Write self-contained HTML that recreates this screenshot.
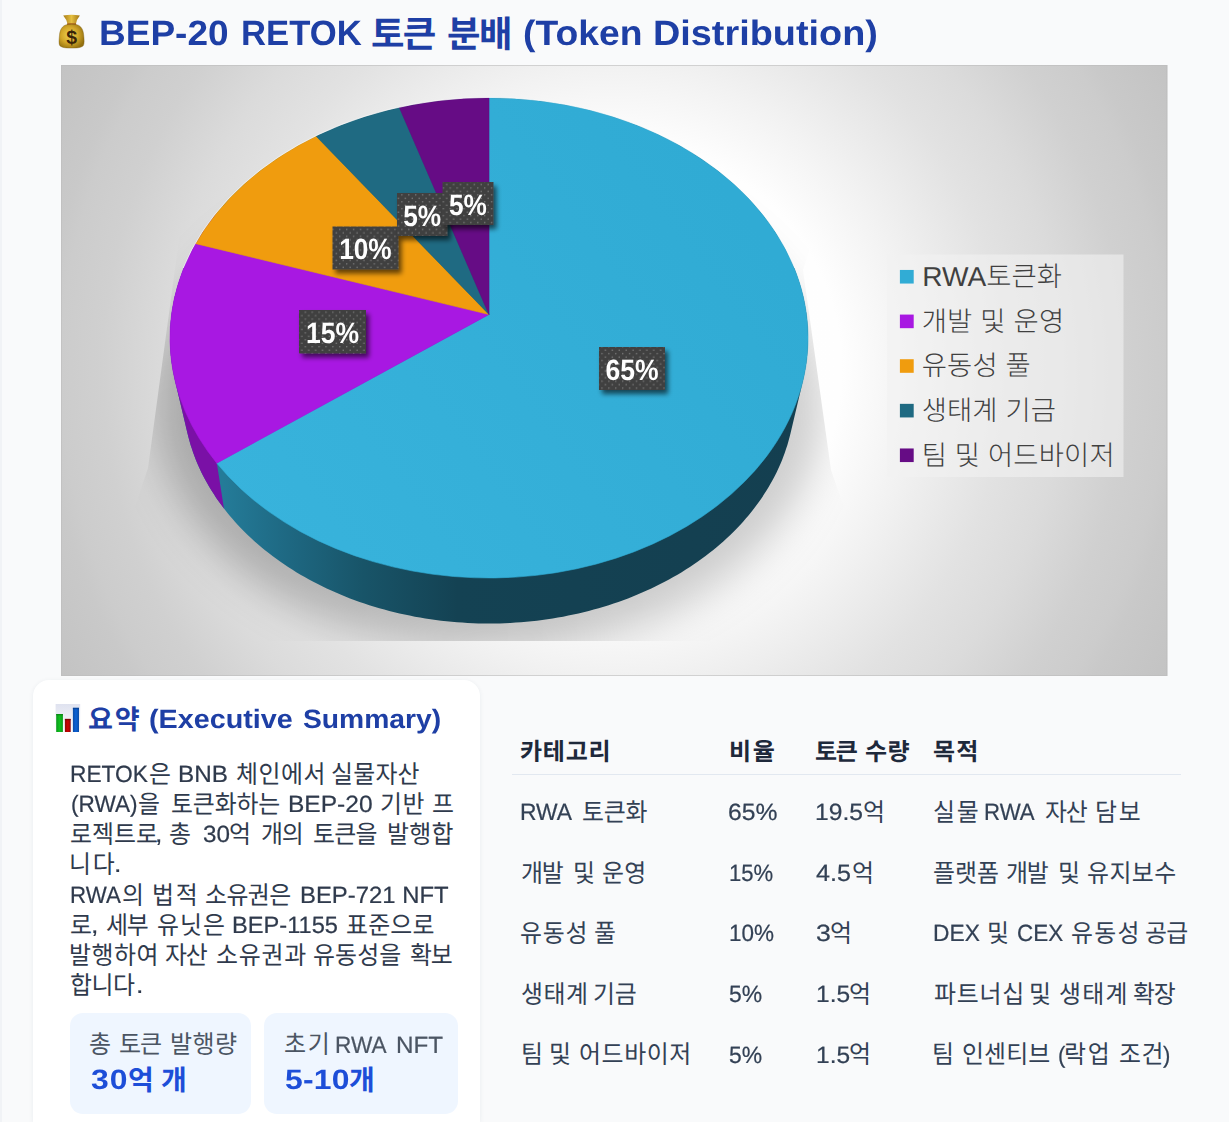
<!DOCTYPE html>
<html lang="ko"><head><meta charset="utf-8"><title>BEP-20 RETOK Token Distribution</title>
<style>
html,body{margin:0;padding:0}
html{width:1229px;height:1122px;overflow:hidden}
body{width:1229px;height:1122px;position:relative;overflow:hidden;text-rendering:geometricPrecision;background:#f9fafb;font-family:"Liberation Sans","Noto Sans CJK KR",sans-serif;color:#334155}
h1,h2,p{margin:0;font-size:inherit;font-weight:inherit}
.blk{position:absolute;left:0;top:0;width:0;height:0}
.r{position:absolute;white-space:nowrap;display:block}
.r svg{display:block;overflow:visible;fill:currentColor}
.l{transform-origin:0 0}
.p .l,.td .l,.sl .l{-webkit-text-stroke:0.22px currentColor}
.h{position:absolute;left:0;top:0;width:1px;height:1px;overflow:hidden;opacity:0;font-size:1px;line-height:1px;letter-spacing:0}
.t1{font-weight:700;color:#1e3fa5}
.p{color:#2f3a4c}
.th{font-weight:700;color:#1e293b}
.td{color:#334155}
.sl{color:#4b5563}
.sv{font-weight:700;color:#1d4ed8}
#card{position:absolute;left:32.5px;top:679.5px;width:447px;height:442.5px;border-radius:16px 16px 0 0;background:#fff;box-shadow:0 1px 5px rgba(30,50,90,.07)}
.stat{position:absolute;border-radius:13px;background:#eff6ff}
#edge{position:absolute;left:0;top:0;width:1.5px;height:1122px;background:#f1f3f6}
</style></head>
<body>
<div id="edge"></div>
<svg style="position:absolute;left:52px;top:8px" width="44" height="48" viewBox="52 8 44 48">
<defs><radialGradient id="mb1" cx="0.42" cy="0.45" r="0.62"><stop offset="0" stop-color="#efd251"/><stop offset="0.55" stop-color="#d2a628"/><stop offset="1" stop-color="#93700f"/></radialGradient>
<linearGradient id="mb2" x1="0" y1="0" x2="1" y2="0"><stop offset="0" stop-color="#a87c18"/><stop offset="0.5" stop-color="#e6c040"/><stop offset="1" stop-color="#a07414"/></linearGradient></defs>
<path d="M63.2,15.6 Q71.5,13.8 79.9,15.6 Q76.6,19.5 75.9,24 L67.5,24 Q66.6,19.5 63.2,15.6Z" fill="url(#mb2)"/>
<path d="M67.3,23.2 L76,23.2 L76.4,25.2 L66.9,25.2Z" fill="#a9601c"/>
<path d="M66.6,24.7 Q71.6,23.8 76.8,24.7 C81,25.6 83.2,29.5 83.7,35 C84.2,40 84.5,44 83.2,45.8 C81,47.9 76,48.1 71.6,48.1 C67,48.1 62,47.9 59.9,45.8 C58.6,44 59,40 59.5,35 C60,29.5 62.4,25.6 66.6,24.7Z" fill="url(#mb1)" stroke="#7a5a12" stroke-opacity=".55" stroke-width=".7"/>
<text x="66.2" y="43.65" font-family="Liberation Sans, sans-serif" font-weight="700" font-size="19.48" fill="#3a2408">$</text>
</svg>
<h1 class="blk t1"><span class="r l" style="left:98.72px;top:12.20px;font-size:35.2px;line-height:44px;letter-spacing:0.000px;transform:scaleX(1.0515);">BEP-20</span> <span class="r l" style="left:240.58px;top:12.20px;font-size:35.2px;line-height:44px;letter-spacing:0.000px;transform:scaleX(0.9849);">RETOK</span> <span class="r" style="left:371.37px;top:10.50px"><svg width="65.16" height="36.40" viewBox="0 0 65.16 36.40"><text x="0" y="36.40" font-size="36.4" textLength="65.16">토큰</text></svg></span> <span class="r" style="left:447.44px;top:10.50px"><svg width="65.45" height="36.40" viewBox="0 0 65.45 36.40"><text x="0" y="36.40" font-size="36.4" textLength="65.45">분배</text></svg></span> <span class="r l" style="left:523.34px;top:12.20px;font-size:35.2px;line-height:44px;letter-spacing:0.000px;transform:scaleX(1.0597);">(Token</span> <span class="r l" style="left:653.47px;top:12.20px;font-size:35.2px;line-height:44px;letter-spacing:0.000px;transform:scaleX(1.0751);">Distribution)</span></h1>
<svg id="chart" width="1229" height="700" viewBox="0 0 1229 700" style="position:absolute;left:0;top:0">
<defs>
<radialGradient id="bg" gradientUnits="userSpaceOnUse" cx="614" cy="370" r="632">
<stop offset="0" stop-color="#ffffff"/><stop offset="0.36" stop-color="#fefefe"/><stop offset="0.475" stop-color="#f2f2f2"/>
<stop offset="0.62" stop-color="#e2e2e2"/><stop offset="0.71" stop-color="#dbdbdb"/><stop offset="0.81" stop-color="#d0d0d0"/>
<stop offset="0.875" stop-color="#cccccc"/><stop offset="0.9" stop-color="#c9c9c9"/><stop offset="1" stop-color="#c3c3c3"/>
</radialGradient>
<linearGradient id="gcy" gradientUnits="userSpaceOnUse" x1="220" y1="500" x2="700" y2="150">
<stop offset="0" stop-color="#38b3dc"/><stop offset="1" stop-color="#30abd4"/></linearGradient>
<linearGradient id="wall" gradientUnits="userSpaceOnUse" x1="224" y1="0" x2="808" y2="0">
<stop offset="0" stop-color="#247b98"/><stop offset="0.11" stop-color="#1e6882"/><stop offset="0.24" stop-color="#185468"/>
<stop offset="0.40" stop-color="#144253"/><stop offset="1" stop-color="#143f50"/></linearGradient>
<pattern id="dots" width="6.9" height="6.9" patternUnits="userSpaceOnUse">
<rect width="6.9" height="6.9" fill="#404040"/><circle cx="1.7" cy="1.7" r="0.8" fill="#7d7d7d"/><circle cx="5.15" cy="5.15" r="0.8" fill="#7d7d7d"/></pattern>
<filter id="lsh" x="-20%" y="-20%" width="150%" height="160%"><feGaussianBlur in="SourceAlpha" stdDeviation="2.4"/><feOffset dx="3" dy="3.5"/>
<feComponentTransfer><feFuncA type="linear" slope="0.6"/></feComponentTransfer><feMerge><feMergeNode/><feMergeNode in="SourceGraphic"/></feMerge></filter>
<filter id="psh" x="-25%" y="-25%" width="150%" height="150%"><feGaussianBlur stdDeviation="21"/></filter>
<clipPath id="pclip"><polygon points="120,90 180,232 148,468 90,641 890,641 831,470 803,270 860,90"/></clipPath>
<linearGradient id="shg" gradientUnits="userSpaceOnUse" x1="150" y1="0" x2="830" y2="0"><stop offset="0" stop-color="#000" stop-opacity=".235"/><stop offset="0.5" stop-color="#000" stop-opacity=".22"/><stop offset="1" stop-color="#000" stop-opacity=".18"/></linearGradient>
</defs>
<rect x="61" y="65" width="1106.4" height="611" fill="url(#bg)"/>
<rect x="61.5" y="65.5" width="1105.4" height="610" fill="none" stroke="#bdbdbd" stroke-opacity=".6"/>
<g clip-path="url(#pclip)"><ellipse cx="490" cy="405" rx="335" ry="245" fill="url(#shg)" filter="url(#psh)"/></g>
<path d="M170.0,338.0 L170.0,333.8 L170.2,329.6 L170.4,325.4 L170.8,321.3 L171.2,317.1 L171.7,312.9 L172.4,308.8 L173.1,304.6 L173.9,300.5 L174.8,296.3 L175.9,292.2 L177.0,288.1 L178.2,284.0 L179.5,279.9 L180.9,275.9 L182.4,271.8 L183.9,267.8 L185.6,263.8 L187.4,259.9 L189.2,255.9 L191.2,252.0 L193.2,248.1 L195.4,244.2 L197.6,240.4 L199.9,236.6 L202.3,232.8 L204.8,229.0 L207.3,225.3 L210.0,221.6 L212.7,218.0 L215.6,214.4 L218.5,210.8 L221.5,207.3 L224.5,203.8 L227.7,200.3 L230.9,196.9 L234.2,193.6 L237.6,190.2 L241.1,187.0 L244.6,183.7 L248.2,180.5 L251.9,177.4 L255.7,174.3 L259.5,171.3 L263.4,168.3 L267.4,165.4 L271.4,162.5 L275.5,159.6 L279.7,156.9 L284.0,154.1 L288.2,151.5 L292.6,148.9 L297.0,146.3 L301.5,143.8 L306.0,141.4 L310.6,139.0 L315.3,136.7 L320.0,134.5 L324.7,132.3 L329.5,130.2 L334.3,128.1 L339.2,126.1 L344.2,124.2 L349.2,122.3 L354.2,120.5 L359.3,118.7 L364.4,117.1 L369.5,115.5 L374.7,113.9 L379.9,112.5 L385.1,111.1 L390.4,109.7 L395.7,108.5 L401.1,107.3 L406.4,106.2 L411.8,105.1 L417.2,104.2 L422.7,103.2 L428.1,102.4 L433.6,101.6 L439.1,101.0 L444.6,100.3 L450.1,99.8 L455.7,99.3 L461.2,98.9 L466.7,98.6 L472.3,98.3 L477.9,98.1 L483.4,98.0 L489.0,98.0 L494.6,98.0 L500.1,98.1 L505.7,98.3 L511.3,98.6 L516.8,98.9 L522.3,99.3 L527.9,99.8 L533.4,100.3 L538.9,101.0 L544.4,101.6 L549.9,102.4 L555.3,103.2 L560.8,104.2 L566.2,105.1 L571.6,106.2 L576.9,107.3 L582.3,108.5 L587.6,109.7 L592.9,111.1 L598.1,112.5 L603.3,113.9 L608.5,115.5 L613.6,117.1 L618.7,118.7 L623.8,120.5 L628.8,122.3 L633.8,124.2 L638.8,126.1 L643.7,128.1 L648.5,130.2 L653.3,132.3 L658.0,134.5 L662.7,136.7 L667.4,139.0 L672.0,141.4 L676.5,143.8 L681.0,146.3 L685.4,148.9 L689.8,151.5 L694.0,154.1 L698.3,156.9 L702.5,159.6 L706.6,162.5 L710.6,165.4 L714.6,168.3 L718.5,171.3 L722.3,174.3 L726.1,177.4 L729.8,180.5 L733.4,183.7 L736.9,187.0 L740.4,190.2 L743.8,193.6 L747.1,196.9 L750.3,200.3 L753.5,203.8 L756.5,207.3 L759.5,210.8 L762.4,214.4 L765.3,218.0 L768.0,221.6 L770.7,225.3 L773.2,229.0 L775.7,232.8 L778.1,236.6 L780.4,240.4 L782.6,244.2 L784.8,248.1 L786.8,252.0 L788.8,255.9 L790.6,259.9 L792.4,263.8 L794.1,267.8 L795.6,271.8 L797.1,275.9 L798.5,279.9 L799.8,284.0 L801.0,288.1 L802.1,292.2 L803.2,296.3 L804.1,300.5 L804.9,304.6 L805.6,308.8 L806.3,312.9 L806.8,317.1 L807.2,321.3 L807.6,325.4 L807.8,329.6 L808.0,333.8 L808.0,338.0 L808.0,342.2 L807.8,346.4 L807.6,350.6 L807.2,354.7 L806.8,358.9 L806.3,363.1 L805.6,367.2 L804.9,371.4 L804.1,375.5 L803.2,379.7 L790.6,433.1 L789.6,437.1 L788.5,441.0 L787.4,444.9 L786.1,448.8 L784.8,452.7 L783.4,456.6 L781.9,460.5 L780.3,464.3 L778.6,468.1 L776.8,471.9 L774.9,475.7 L772.9,479.4 L770.9,483.1 L768.8,486.8 L766.5,490.5 L764.2,494.1 L761.9,497.7 L759.4,501.3 L756.8,504.8 L754.2,508.3 L751.5,511.8 L748.7,515.2 L745.8,518.6 L742.9,521.9 L739.9,525.3 L736.8,528.5 L733.6,531.8 L730.3,534.9 L727.0,538.1 L723.6,541.2 L720.1,544.3 L716.6,547.3 L713.0,550.2 L709.3,553.1 L705.5,556.0 L701.7,558.8 L697.9,561.6 L693.9,564.3 L689.9,567.0 L685.8,569.6 L681.7,572.2 L677.5,574.7 L673.3,577.1 L669.0,579.5 L664.7,581.8 L660.2,584.1 L655.8,586.3 L651.3,588.5 L646.7,590.6 L642.1,592.6 L637.5,594.6 L632.8,596.5 L628.0,598.4 L623.2,600.2 L618.4,601.9 L613.6,603.6 L608.7,605.2 L603.7,606.7 L598.7,608.2 L593.7,609.6 L588.7,610.9 L583.6,612.2 L578.5,613.4 L573.4,614.6 L568.3,615.6 L563.1,616.7 L557.9,617.6 L552.7,618.5 L547.4,619.3 L542.2,620.0 L536.9,620.7 L531.6,621.3 L526.3,621.8 L521.0,622.2 L515.7,622.6 L510.4,622.9 L505.0,623.2 L499.7,623.4 L494.3,623.5 L489.0,623.5 L483.7,623.5 L478.3,623.4 L473.0,623.2 L467.6,622.9 L462.3,622.6 L457.0,622.2 L451.7,621.8 L446.4,621.3 L441.1,620.7 L435.8,620.0 L430.6,619.3 L425.3,618.5 L420.1,617.6 L414.9,616.7 L409.7,615.6 L404.6,614.6 L399.5,613.4 L394.4,612.2 L389.3,610.9 L384.3,609.6 L379.3,608.2 L374.3,606.7 L369.3,605.2 L364.4,603.6 L359.6,601.9 L354.8,600.2 L350.0,598.4 L345.2,596.5 L340.5,594.6 L335.9,592.6 L331.3,590.6 L326.7,588.5 L322.2,586.3 L317.8,584.1 L313.3,581.8 L309.0,579.5 L304.7,577.1 L300.5,574.7 L296.3,572.2 L292.2,569.6 L288.1,567.0 L284.1,564.3 L280.1,561.6 L276.3,558.8 L272.5,556.0 L268.7,553.1 L265.0,550.2 L261.4,547.3 L257.9,544.3 L254.4,541.2 L251.0,538.1 L247.7,534.9 L244.4,531.8 L241.2,528.5 L238.1,525.3 L235.1,521.9 L232.2,518.6 L229.3,515.2 L226.5,511.8 L223.8,508.3 L221.2,504.8 L218.6,501.3 L216.1,497.7 L213.8,494.1 L211.5,490.5 L209.2,486.8 L207.1,483.1 L205.1,479.4 L203.1,475.7 L201.2,471.9 L199.4,468.1 L197.7,464.3 L196.1,460.5 L194.6,456.6 L193.2,452.7 L191.9,448.8 L190.6,444.9 L189.5,441.0 L188.4,437.1 L187.4,433.1 L174.8,379.7 L173.9,375.5 L173.1,371.4 L172.4,367.2 L171.7,363.1 L171.2,358.9 L170.8,354.7 L170.4,350.6 L170.2,346.4 L170.0,342.2Z" fill="url(#wall)"/>
<clipPath id="pw"><polygon points="100,200 216.8,200 216.8,463.1 224,508.8 232,565 100,565"/></clipPath>
<path d="M170.0,338.0 L170.0,333.8 L170.2,329.6 L170.4,325.4 L170.8,321.3 L171.2,317.1 L171.7,312.9 L172.4,308.8 L173.1,304.6 L173.9,300.5 L174.8,296.3 L175.9,292.2 L177.0,288.1 L178.2,284.0 L179.5,279.9 L180.9,275.9 L182.4,271.8 L183.9,267.8 L185.6,263.8 L187.4,259.9 L189.2,255.9 L191.2,252.0 L193.2,248.1 L195.4,244.2 L197.6,240.4 L199.9,236.6 L202.3,232.8 L204.8,229.0 L207.3,225.3 L210.0,221.6 L212.7,218.0 L215.6,214.4 L218.5,210.8 L221.5,207.3 L224.5,203.8 L227.7,200.3 L230.9,196.9 L234.2,193.6 L237.6,190.2 L241.1,187.0 L244.6,183.7 L248.2,180.5 L251.9,177.4 L255.7,174.3 L259.5,171.3 L263.4,168.3 L267.4,165.4 L271.4,162.5 L275.5,159.6 L279.7,156.9 L284.0,154.1 L288.2,151.5 L292.6,148.9 L297.0,146.3 L301.5,143.8 L306.0,141.4 L310.6,139.0 L315.3,136.7 L320.0,134.5 L324.7,132.3 L329.5,130.2 L334.3,128.1 L339.2,126.1 L344.2,124.2 L349.2,122.3 L354.2,120.5 L359.3,118.7 L364.4,117.1 L369.5,115.5 L374.7,113.9 L379.9,112.5 L385.1,111.1 L390.4,109.7 L395.7,108.5 L401.1,107.3 L406.4,106.2 L411.8,105.1 L417.2,104.2 L422.7,103.2 L428.1,102.4 L433.6,101.6 L439.1,101.0 L444.6,100.3 L450.1,99.8 L455.7,99.3 L461.2,98.9 L466.7,98.6 L472.3,98.3 L477.9,98.1 L483.4,98.0 L489.0,98.0 L494.6,98.0 L500.1,98.1 L505.7,98.3 L511.3,98.6 L516.8,98.9 L522.3,99.3 L527.9,99.8 L533.4,100.3 L538.9,101.0 L544.4,101.6 L549.9,102.4 L555.3,103.2 L560.8,104.2 L566.2,105.1 L571.6,106.2 L576.9,107.3 L582.3,108.5 L587.6,109.7 L592.9,111.1 L598.1,112.5 L603.3,113.9 L608.5,115.5 L613.6,117.1 L618.7,118.7 L623.8,120.5 L628.8,122.3 L633.8,124.2 L638.8,126.1 L643.7,128.1 L648.5,130.2 L653.3,132.3 L658.0,134.5 L662.7,136.7 L667.4,139.0 L672.0,141.4 L676.5,143.8 L681.0,146.3 L685.4,148.9 L689.8,151.5 L694.0,154.1 L698.3,156.9 L702.5,159.6 L706.6,162.5 L710.6,165.4 L714.6,168.3 L718.5,171.3 L722.3,174.3 L726.1,177.4 L729.8,180.5 L733.4,183.7 L736.9,187.0 L740.4,190.2 L743.8,193.6 L747.1,196.9 L750.3,200.3 L753.5,203.8 L756.5,207.3 L759.5,210.8 L762.4,214.4 L765.3,218.0 L768.0,221.6 L770.7,225.3 L773.2,229.0 L775.7,232.8 L778.1,236.6 L780.4,240.4 L782.6,244.2 L784.8,248.1 L786.8,252.0 L788.8,255.9 L790.6,259.9 L792.4,263.8 L794.1,267.8 L795.6,271.8 L797.1,275.9 L798.5,279.9 L799.8,284.0 L801.0,288.1 L802.1,292.2 L803.2,296.3 L804.1,300.5 L804.9,304.6 L805.6,308.8 L806.3,312.9 L806.8,317.1 L807.2,321.3 L807.6,325.4 L807.8,329.6 L808.0,333.8 L808.0,338.0 L808.0,342.2 L807.8,346.4 L807.6,350.6 L807.2,354.7 L806.8,358.9 L806.3,363.1 L805.6,367.2 L804.9,371.4 L804.1,375.5 L803.2,379.7 L790.6,433.1 L789.6,437.1 L788.5,441.0 L787.4,444.9 L786.1,448.8 L784.8,452.7 L783.4,456.6 L781.9,460.5 L780.3,464.3 L778.6,468.1 L776.8,471.9 L774.9,475.7 L772.9,479.4 L770.9,483.1 L768.8,486.8 L766.5,490.5 L764.2,494.1 L761.9,497.7 L759.4,501.3 L756.8,504.8 L754.2,508.3 L751.5,511.8 L748.7,515.2 L745.8,518.6 L742.9,521.9 L739.9,525.3 L736.8,528.5 L733.6,531.8 L730.3,534.9 L727.0,538.1 L723.6,541.2 L720.1,544.3 L716.6,547.3 L713.0,550.2 L709.3,553.1 L705.5,556.0 L701.7,558.8 L697.9,561.6 L693.9,564.3 L689.9,567.0 L685.8,569.6 L681.7,572.2 L677.5,574.7 L673.3,577.1 L669.0,579.5 L664.7,581.8 L660.2,584.1 L655.8,586.3 L651.3,588.5 L646.7,590.6 L642.1,592.6 L637.5,594.6 L632.8,596.5 L628.0,598.4 L623.2,600.2 L618.4,601.9 L613.6,603.6 L608.7,605.2 L603.7,606.7 L598.7,608.2 L593.7,609.6 L588.7,610.9 L583.6,612.2 L578.5,613.4 L573.4,614.6 L568.3,615.6 L563.1,616.7 L557.9,617.6 L552.7,618.5 L547.4,619.3 L542.2,620.0 L536.9,620.7 L531.6,621.3 L526.3,621.8 L521.0,622.2 L515.7,622.6 L510.4,622.9 L505.0,623.2 L499.7,623.4 L494.3,623.5 L489.0,623.5 L483.7,623.5 L478.3,623.4 L473.0,623.2 L467.6,622.9 L462.3,622.6 L457.0,622.2 L451.7,621.8 L446.4,621.3 L441.1,620.7 L435.8,620.0 L430.6,619.3 L425.3,618.5 L420.1,617.6 L414.9,616.7 L409.7,615.6 L404.6,614.6 L399.5,613.4 L394.4,612.2 L389.3,610.9 L384.3,609.6 L379.3,608.2 L374.3,606.7 L369.3,605.2 L364.4,603.6 L359.6,601.9 L354.8,600.2 L350.0,598.4 L345.2,596.5 L340.5,594.6 L335.9,592.6 L331.3,590.6 L326.7,588.5 L322.2,586.3 L317.8,584.1 L313.3,581.8 L309.0,579.5 L304.7,577.1 L300.5,574.7 L296.3,572.2 L292.2,569.6 L288.1,567.0 L284.1,564.3 L280.1,561.6 L276.3,558.8 L272.5,556.0 L268.7,553.1 L265.0,550.2 L261.4,547.3 L257.9,544.3 L254.4,541.2 L251.0,538.1 L247.7,534.9 L244.4,531.8 L241.2,528.5 L238.1,525.3 L235.1,521.9 L232.2,518.6 L229.3,515.2 L226.5,511.8 L223.8,508.3 L221.2,504.8 L218.6,501.3 L216.1,497.7 L213.8,494.1 L211.5,490.5 L209.2,486.8 L207.1,483.1 L205.1,479.4 L203.1,475.7 L201.2,471.9 L199.4,468.1 L197.7,464.3 L196.1,460.5 L194.6,456.6 L193.2,452.7 L191.9,448.8 L190.6,444.9 L189.5,441.0 L188.4,437.1 L187.4,433.1 L174.8,379.7 L173.9,375.5 L173.1,371.4 L172.4,367.2 L171.7,363.1 L171.2,358.9 L170.8,354.7 L170.4,350.6 L170.2,346.4 L170.0,342.2Z" fill="#7a10a6" clip-path="url(#pw)"/>
<path d="M489,314.5 L489.00,98.00 A319,240 0 1 1 216.79,463.13 Z" fill="url(#gcy)" stroke="#31acd5" stroke-width="0.6"/>
<path d="M489,314.5 L216.79,463.13 A319,240 0 0 1 195.70,243.63 Z" fill="#a818e2" stroke="#a818e2" stroke-width="0.6"/>
<path d="M489,314.5 L195.70,243.63 A319,240 0 0 1 316.22,136.25 Z" fill="#f09c0e" stroke="#f09c0e" stroke-width="0.6"/>
<path d="M489,314.5 L316.22,136.25 A319,240 0 0 1 399.45,107.65 Z" fill="#1f6a82" stroke="#1f6a82" stroke-width="0.6"/>
<path d="M489,314.5 L399.45,107.65 A319,240 0 0 1 489.00,98.00 Z" fill="#660c85" stroke="#660c85" stroke-width="0.6"/>
<path d="M183.23,268 A319.6,240.6 0 0 1 794.77,268" fill="none" stroke="#fff" stroke-opacity=".6" stroke-width="1"/>
<g filter="url(#lsh)"><rect x="332.5" y="226.5" width="66.0" height="43.0" fill="url(#dots)"/></g>
<text x="339.2" y="259.3" textLength="52.5" lengthAdjust="spacingAndGlyphs" font-family="Liberation Sans, sans-serif" font-weight="700" font-size="29.3" fill="#fff" opacity="0.996">10%</text>
<g filter="url(#lsh)"><rect x="397" y="193" width="50.5" height="43" fill="url(#dots)"/></g>
<text x="403.2" y="225.8" textLength="37.9" lengthAdjust="spacingAndGlyphs" font-family="Liberation Sans, sans-serif" font-weight="700" font-size="29.3" fill="#fff" opacity="0.996">5%</text>
<g filter="url(#lsh)"><rect x="442.5" y="182" width="51.0" height="43" fill="url(#dots)"/></g>
<text x="449.0" y="214.8" textLength="37.9" lengthAdjust="spacingAndGlyphs" font-family="Liberation Sans, sans-serif" font-weight="700" font-size="29.3" fill="#fff" opacity="0.996">5%</text>
<g filter="url(#lsh)"><rect x="299" y="310" width="67" height="43.5" fill="url(#dots)"/></g>
<text x="305.9" y="343.3" textLength="53.1" lengthAdjust="spacingAndGlyphs" font-family="Liberation Sans, sans-serif" font-weight="700" font-size="29.3" fill="#fff" opacity="0.996">15%</text>
<g filter="url(#lsh)"><rect x="599" y="347" width="66" height="43" fill="url(#dots)"/></g>
<text x="605.4" y="379.8" textLength="53.1" lengthAdjust="spacingAndGlyphs" font-family="Liberation Sans, sans-serif" font-weight="700" font-size="29.3" fill="#fff" opacity="0.996">65%</text>
<rect x="887" y="254.5" width="236.5" height="222.5" fill="#f2f2f2" fill-opacity=".6"/>
<g font-family="'Liberation Sans', 'Noto Sans CJK KR', sans-serif" font-size="27.4" font-weight="300" fill="#404040">
<rect x="899.9" y="269.95" width="13.8" height="13.6" fill="#31acd5"/>
<text x="922.3" y="286.05" textLength="64" lengthAdjust="spacingAndGlyphs">RWA</text>
<text x="986.3" y="286.05" textLength="75.6">토큰화</text>
<rect x="899.9" y="314.58" width="13.8" height="13.6" fill="#a818e2"/>
<text x="921.7" y="330.68" textLength="142.5">개발 및 운영</text>
<rect x="899.9" y="359.21" width="13.8" height="13.6" fill="#f09c0e"/>
<text x="921.7" y="375.31" textLength="109.1">유동성 풀</text>
<rect x="899.9" y="403.84" width="13.8" height="13.6" fill="#1f6a82"/>
<text x="921.7" y="419.94" textLength="134.3">생태계 기금</text>
<rect x="899.9" y="448.47" width="13.8" height="13.6" fill="#660c85"/>
<text x="921.7" y="464.57" textLength="192.9">팀 및 어드바이저</text>
</g>
</svg>
<div id="card"></div>
<svg style="position:absolute;left:52px;top:700px" width="32" height="36" viewBox="52 700 32 36">
<defs><linearGradient id="bc0" x1="0" y1="0" x2="0" y2="1"><stop offset="0" stop-color="#dfe2ef"/><stop offset="1" stop-color="#fbfbfd"/></linearGradient>
<linearGradient id="bcg" x1="0" y1="0" x2="1" y2="0"><stop offset="0" stop-color="#0a9a1a"/><stop offset="0.5" stop-color="#0fbf1f"/><stop offset="1" stop-color="#0a9a1a"/></linearGradient>
<linearGradient id="bcr" x1="0" y1="0" x2="1" y2="0"><stop offset="0" stop-color="#8c0808"/><stop offset="0.5" stop-color="#d00000"/><stop offset="1" stop-color="#8c0808"/></linearGradient>
<linearGradient id="bcb" x1="0" y1="0" x2="1" y2="0"><stop offset="0" stop-color="#0a4ba6"/><stop offset="0.5" stop-color="#0b62d6"/><stop offset="1" stop-color="#0a4ba6"/></linearGradient></defs>
<rect x="55.6" y="704" width="24.6" height="28" fill="url(#bc0)"/>
<rect x="56.2" y="714" width="6.7" height="18" fill="url(#bcg)"/>
<rect x="64.9" y="718.9" width="5.8" height="13.1" fill="url(#bcr)"/>
<rect x="72.9" y="707.8" width="6.1" height="24.2" fill="url(#bcb)"/>
<rect x="56.2" y="714" width="6.7" height="1.3" fill="#0a7f16" fill-opacity=".75"/><rect x="64.9" y="718.9" width="5.8" height="1.3" fill="#6f0606" fill-opacity=".75"/><rect x="72.9" y="707.8" width="6.1" height="1.3" fill="#083e8c" fill-opacity=".75"/>
</svg>
<h2 class="blk t1"><span class="r" style="left:88.22px;top:702.20px"><svg width="51.76" height="27.10" viewBox="0 0 51.76 27.10"><text x="0" y="27.10" font-size="27.1" textLength="51.76">요약</text></svg></span> <span class="r l" style="left:148.97px;top:703.12px;font-size:26.5px;line-height:33px;letter-spacing:0.000px;transform:scaleX(1.0849);">(Executive</span> <span class="r l" style="left:303.39px;top:703.12px;font-size:26.5px;line-height:33px;letter-spacing:0.000px;transform:scaleX(1.0665);">Summary)</span></h2>
<p class="blk p"><span class="r l" style="left:69.83px;top:759.66px;font-size:23.5px;line-height:29px;letter-spacing:0.000px;transform:scaleX(0.9675);">RETOK</span><span class="r" style="left:148.89px;top:757.50px"><svg width="21.99" height="25.09" viewBox="0 0 21.99 25.09"><text transform="scale(0.9526,1)" x="0" y="25.09" font-size="25.09">은</text></svg></span> <span class="r l" style="left:177.81px;top:759.66px;font-size:23.5px;line-height:29px;letter-spacing:-0.000px;transform:scaleX(1.0321);">BNB</span> <span class="r" style="left:235.69px;top:757.50px"><svg width="89.58" height="25.09" viewBox="0 0 89.58 25.09"><text transform="scale(0.9526,1)" x="0" y="25.09" font-size="25.09" textLength="94.04">체인에서</text></svg></span> <span class="r" style="left:330.76px;top:757.50px"><svg width="88.59" height="25.09" viewBox="0 0 88.59 25.09"><text transform="scale(0.9526,1)" x="0" y="25.09" font-size="25.09" textLength="93.00">실물자산</text></svg></span> <span class="r l" style="left:71.10px;top:789.91px;font-size:23.5px;line-height:29px;letter-spacing:0.000px;transform:scaleX(0.9621);">(RWA)</span><span class="r" style="left:137.89px;top:787.75px"><svg width="21.99" height="25.09" viewBox="0 0 21.99 25.09"><text transform="scale(0.9526,1)" x="0" y="25.09" font-size="25.09">을</text></svg></span> <span class="r" style="left:171.05px;top:787.75px"><svg width="109.29" height="25.09" viewBox="0 0 109.29 25.09"><text transform="scale(0.9526,1)" x="0" y="25.09" font-size="25.09" textLength="114.73">토큰화하는</text></svg></span> <span class="r l" style="left:288.29px;top:789.91px;font-size:23.5px;line-height:29px;letter-spacing:0.000px;transform:scaleX(1.0443);">BEP-20</span> <span class="r" style="left:380.34px;top:787.75px"><svg width="44.53" height="25.09" viewBox="0 0 44.53 25.09"><text transform="scale(0.9526,1)" x="0" y="25.09" font-size="25.09" textLength="46.75">기반</text></svg></span> <span class="r" style="left:431.61px;top:787.75px"><svg width="21.99" height="25.09" viewBox="0 0 21.99 25.09"><text transform="scale(0.9526,1)" x="0" y="25.09" font-size="25.09">프</text></svg></span><span class="r" style="left:70.25px;top:818.00px"><svg width="87.88" height="25.09" viewBox="0 0 87.88 25.09"><text transform="scale(0.9526,1)" x="0" y="25.09" font-size="25.09" textLength="92.26">로젝트로</text></svg></span><span class="r l" style="left:155.23px;top:820.16px;font-size:23.5px;line-height:29px;letter-spacing:0.000px;transform:scaleX(1.1400);">,</span> <span class="r" style="left:168.69px;top:818.00px"><svg width="21.99" height="25.09" viewBox="0 0 21.99 25.09"><text transform="scale(0.9526,1)" x="0" y="25.09" font-size="25.09">총</text></svg></span> <span class="r l" style="left:202.58px;top:820.16px;font-size:23.5px;line-height:29px;letter-spacing:0.000px;transform:scaleX(1.0318);">30</span><span class="r" style="left:228.57px;top:818.00px"><svg width="21.99" height="25.09" viewBox="0 0 21.99 25.09"><text transform="scale(0.9526,1)" x="0" y="25.09" font-size="25.09">억</text></svg></span> <span class="r" style="left:260.70px;top:818.00px"><svg width="42.78" height="25.09" viewBox="0 0 42.78 25.09"><text transform="scale(0.9526,1)" x="0" y="25.09" font-size="25.09" textLength="44.91">개의</text></svg></span> <span class="r" style="left:313.45px;top:818.00px"><svg width="64.62" height="25.09" viewBox="0 0 64.62 25.09"><text transform="scale(0.9526,1)" x="0" y="25.09" font-size="25.09" textLength="67.84">토큰을</text></svg></span> <span class="r" style="left:386.92px;top:818.00px"><svg width="66.43" height="25.09" viewBox="0 0 66.43 25.09"><text transform="scale(0.9526,1)" x="0" y="25.09" font-size="25.09" textLength="69.74">발행합</text></svg></span><span class="r" style="left:69.11px;top:848.25px"><svg width="45.65" height="25.09" viewBox="0 0 45.65 25.09"><text transform="scale(0.9526,1)" x="0" y="25.09" font-size="25.09" textLength="47.92">니다</text></svg></span><span class="r l" style="left:114.08px;top:850.41px;font-size:23.5px;line-height:29px;letter-spacing:0.000px;transform:scaleX(1.1400);">.</span><br><span class="r l" style="left:69.57px;top:880.66px;font-size:23.5px;line-height:29px;letter-spacing:0.000px;transform:scaleX(0.9479);">RWA</span><span class="r" style="left:122.25px;top:878.50px"><svg width="21.99" height="25.09" viewBox="0 0 21.99 25.09"><text transform="scale(0.9526,1)" x="0" y="25.09" font-size="25.09">의</text></svg></span> <span class="r" style="left:152.45px;top:878.50px"><svg width="45.65" height="25.09" viewBox="0 0 45.65 25.09"><text transform="scale(0.9526,1)" x="0" y="25.09" font-size="25.09" textLength="47.92">법적</text></svg></span> <span class="r" style="left:204.65px;top:878.50px"><svg width="86.24" height="25.09" viewBox="0 0 86.24 25.09"><text transform="scale(0.9526,1)" x="0" y="25.09" font-size="25.09" textLength="90.53">소유권은</text></svg></span> <span class="r l" style="left:300.24px;top:880.66px;font-size:23.5px;line-height:29px;letter-spacing:0.000px;transform:scaleX(1.0160);">BEP-721 NFT</span><span class="r" style="left:70.21px;top:908.75px"><svg width="21.99" height="25.09" viewBox="0 0 21.99 25.09"><text transform="scale(0.9526,1)" x="0" y="25.09" font-size="25.09">로</text></svg></span><span class="r l" style="left:91.33px;top:910.91px;font-size:23.5px;line-height:29px;letter-spacing:0.000px;transform:scaleX(1.1400);">,</span> <span class="r" style="left:105.67px;top:908.75px"><svg width="42.78" height="25.09" viewBox="0 0 42.78 25.09"><text transform="scale(0.9526,1)" x="0" y="25.09" font-size="25.09" textLength="44.91">세부</text></svg></span> <span class="r" style="left:156.85px;top:908.75px"><svg width="67.92" height="25.09" viewBox="0 0 67.92 25.09"><text transform="scale(0.9526,1)" x="0" y="25.09" font-size="25.09" textLength="71.30">유닛은</text></svg></span> <span class="r l" style="left:232.36px;top:910.91px;font-size:23.5px;line-height:29px;letter-spacing:0.000px;transform:scaleX(1.0056);">BEP-1155</span> <span class="r" style="left:346.05px;top:908.75px"><svg width="88.54" height="25.09" viewBox="0 0 88.54 25.09"><text transform="scale(0.9526,1)" x="0" y="25.09" font-size="25.09" textLength="92.95">표준으로</text></svg></span><span class="r" style="left:69.42px;top:939.00px"><svg width="89.55" height="25.09" viewBox="0 0 89.55 25.09"><text transform="scale(0.9526,1)" x="0" y="25.09" font-size="25.09" textLength="94.01">발행하여</text></svg></span> <span class="r" style="left:164.77px;top:939.00px"><svg width="42.78" height="25.09" viewBox="0 0 42.78 25.09"><text transform="scale(0.9526,1)" x="0" y="25.09" font-size="25.09" textLength="44.91">자산</text></svg></span> <span class="r" style="left:216.05px;top:939.00px"><svg width="90.13" height="25.09" viewBox="0 0 90.13 25.09"><text transform="scale(0.9526,1)" x="0" y="25.09" font-size="25.09" textLength="94.62">소유권과</text></svg></span> <span class="r" style="left:312.55px;top:939.00px"><svg width="88.37" height="25.09" viewBox="0 0 88.37 25.09"><text transform="scale(0.9526,1)" x="0" y="25.09" font-size="25.09" textLength="92.77">유동성을</text></svg></span> <span class="r" style="left:410.24px;top:939.00px"><svg width="42.78" height="25.09" viewBox="0 0 42.78 25.09"><text transform="scale(0.9526,1)" x="0" y="25.09" font-size="25.09" textLength="44.91">확보</text></svg></span><span class="r" style="left:70.21px;top:969.25px"><svg width="65.11" height="25.09" viewBox="0 0 65.11 25.09"><text transform="scale(0.9526,1)" x="0" y="25.09" font-size="25.09" textLength="68.35">합니다</text></svg></span><span class="r l" style="left:135.78px;top:971.41px;font-size:23.5px;line-height:29px;letter-spacing:0.000px;transform:scaleX(1.1400);">.</span></p>
<div class="stat" style="left:69.9px;top:1012.8px;width:181.1px;height:101.4px"></div>
<div class="stat" style="left:264px;top:1012.8px;width:193.7px;height:101.4px"></div>
<div class="blk sl"><span class="r" style="left:89.45px;top:1028.30px"><svg width="22.08" height="25.20" viewBox="0 0 22.08 25.20"><text transform="scale(0.9524,1)" x="0" y="25.20" font-size="25.2">총</text></svg></span> <span class="r" style="left:118.53px;top:1028.30px"><svg width="42.96" height="25.20" viewBox="0 0 42.96 25.20"><text transform="scale(0.9524,1)" x="0" y="25.20" font-size="25.2" textLength="45.11">토큰</text></svg></span> <span class="r" style="left:169.91px;top:1028.30px"><svg width="67.21" height="25.20" viewBox="0 0 67.21 25.20"><text transform="scale(0.9524,1)" x="0" y="25.20" font-size="25.2" textLength="70.57">발행량</text></svg></span></div>
<div class="blk sv"><span class="r l" style="left:90.77px;top:1062.10px;font-size:28px;line-height:35px;letter-spacing:0.822px;transform:scaleX(1.1400);">30</span><span class="r" style="left:128.40px;top:1061.90px"><svg width="25.76" height="28.00" viewBox="0 0 25.76 28.00"><text x="0" y="28.00" font-size="28">억</text></svg></span> <span class="r" style="left:160.93px;top:1061.90px"><svg width="25.76" height="28.00" viewBox="0 0 25.76 28.00"><text x="0" y="28.00" font-size="28">개</text></svg></span></div>
<div class="blk sl"><span class="r" style="left:284.06px;top:1028.30px"><svg width="45.84" height="25.20" viewBox="0 0 45.84 25.20"><text transform="scale(0.9524,1)" x="0" y="25.20" font-size="25.2" textLength="48.13">초기</text></svg></span> <span class="r l" style="left:335.34px;top:1030.56px;font-size:23.5px;line-height:29px;letter-spacing:0.000px;transform:scaleX(0.9631);">RWA</span> <span class="r l" style="left:395.71px;top:1030.56px;font-size:23.5px;line-height:29px;letter-spacing:0.000px;transform:scaleX(1.0321);">NFT</span></div>
<div class="blk sv"><span class="r l" style="left:284.52px;top:1062.10px;font-size:28px;line-height:35px;letter-spacing:0.206px;transform:scaleX(1.1400);">5-10</span><span class="r" style="left:348.98px;top:1061.90px"><svg width="25.76" height="28.00" viewBox="0 0 25.76 28.00"><text x="0" y="28.00" font-size="28">개</text></svg></span></div>
<div class="blk th"><span class="r" style="left:520.14px;top:735.70px"><svg width="90.63" height="24.00" viewBox="0 0 90.63 24.00"><text x="0" y="24.00" font-size="24" textLength="90.63">카테고리</text></svg></span> <span class="r" style="left:728.52px;top:735.70px"><svg width="45.84" height="24.00" viewBox="0 0 45.84 24.00"><text x="0" y="24.00" font-size="24" textLength="45.84">비율</text></svg></span> <span class="r" style="left:815.32px;top:735.70px"><svg width="42.96" height="24.00" viewBox="0 0 42.96 24.00"><text x="0" y="24.00" font-size="24" textLength="42.96">토큰</text></svg></span> <span class="r" style="left:865.42px;top:735.70px"><svg width="44.55" height="24.00" viewBox="0 0 44.55 24.00"><text x="0" y="24.00" font-size="24" textLength="44.55">수량</text></svg></span> <span class="r" style="left:933.44px;top:735.70px"><svg width="45.35" height="24.00" viewBox="0 0 45.35 24.00"><text x="0" y="24.00" font-size="24" textLength="45.35">목적</text></svg></span></div>
<div style="position:absolute;left:512px;top:773.7px;width:669px;height:1.4px;background:#e2e8f0"></div>
<div class="blk td"><span class="r l" style="left:520.13px;top:798.36px;font-size:23.5px;line-height:29px;letter-spacing:0.000px;transform:scaleX(0.9725);">RWA</span> <span class="r" style="left:581.75px;top:796.20px"><svg width="65.40" height="25.09" viewBox="0 0 65.40 25.09"><text transform="scale(0.9526,1)" x="0" y="25.09" font-size="25.09" textLength="68.66">토큰화</text></svg></span> <span class="r l" style="left:728.25px;top:798.36px;font-size:23.5px;line-height:29px;letter-spacing:0.000px;transform:scaleX(1.0510);">65%</span> <span class="r l" style="left:814.82px;top:798.36px;font-size:23.5px;line-height:29px;letter-spacing:0.000px;transform:scaleX(1.0498);">19.5</span><span class="r" style="left:863.17px;top:796.20px"><svg width="21.99" height="25.09" viewBox="0 0 21.99 25.09"><text transform="scale(0.9526,1)" x="0" y="25.09" font-size="25.09">억</text></svg></span> <span class="r" style="left:933.23px;top:796.20px"><svg width="45.65" height="25.09" viewBox="0 0 45.65 25.09"><text transform="scale(0.9526,1)" x="0" y="25.09" font-size="25.09" textLength="47.92">실물</text></svg></span> <span class="r l" style="left:984.48px;top:798.36px;font-size:23.5px;line-height:29px;letter-spacing:0.000px;transform:scaleX(0.9460);">RWA</span> <span class="r" style="left:1044.92px;top:796.20px"><svg width="42.78" height="25.09" viewBox="0 0 42.78 25.09"><text transform="scale(0.9526,1)" x="0" y="25.09" font-size="25.09" textLength="44.91">자산</text></svg></span> <span class="r" style="left:1095.32px;top:796.20px"><svg width="45.65" height="25.09" viewBox="0 0 45.65 25.09"><text transform="scale(0.9526,1)" x="0" y="25.09" font-size="25.09" textLength="47.92">담보</text></svg></span>
<span class="r" style="left:520.58px;top:856.75px"><svg width="42.78" height="25.09" viewBox="0 0 42.78 25.09"><text transform="scale(0.9526,1)" x="0" y="25.09" font-size="25.09" textLength="44.91">개발</text></svg></span> <span class="r" style="left:573.39px;top:856.75px"><svg width="21.99" height="25.09" viewBox="0 0 21.99 25.09"><text transform="scale(0.9526,1)" x="0" y="25.09" font-size="25.09">및</text></svg></span> <span class="r" style="left:601.75px;top:856.75px"><svg width="44.16" height="25.09" viewBox="0 0 44.16 25.09"><text transform="scale(0.9526,1)" x="0" y="25.09" font-size="25.09" textLength="46.36">운영</text></svg></span> <span class="r l" style="left:729.32px;top:858.91px;font-size:23.5px;line-height:29px;letter-spacing:-0.023px;transform:scaleX(0.9400);">15%</span> <span class="r l" style="left:816.42px;top:858.91px;font-size:23.5px;line-height:29px;letter-spacing:0.000px;transform:scaleX(1.0693);">4.5</span><span class="r" style="left:852.17px;top:856.75px"><svg width="21.99" height="25.09" viewBox="0 0 21.99 25.09"><text transform="scale(0.9526,1)" x="0" y="25.09" font-size="25.09">억</text></svg></span> <span class="r" style="left:933.25px;top:856.75px"><svg width="65.97" height="25.09" viewBox="0 0 65.97 25.09"><text transform="scale(0.9526,1)" x="0" y="25.09" font-size="25.09" textLength="69.25">플랫폼</text></svg></span> <span class="r" style="left:1006.48px;top:856.75px"><svg width="42.78" height="25.09" viewBox="0 0 42.78 25.09"><text transform="scale(0.9526,1)" x="0" y="25.09" font-size="25.09" textLength="44.91">개발</text></svg></span> <span class="r" style="left:1057.59px;top:856.75px"><svg width="21.99" height="25.09" viewBox="0 0 21.99 25.09"><text transform="scale(0.9526,1)" x="0" y="25.09" font-size="25.09">및</text></svg></span> <span class="r" style="left:1087.05px;top:856.75px"><svg width="89.27" height="25.09" viewBox="0 0 89.27 25.09"><text transform="scale(0.9526,1)" x="0" y="25.09" font-size="25.09" textLength="93.71">유지보수</text></svg></span>
<span class="r" style="left:519.85px;top:917.30px"><svg width="67.47" height="25.09" viewBox="0 0 67.47 25.09"><text transform="scale(0.9526,1)" x="0" y="25.09" font-size="25.09" textLength="70.83">유동성</text></svg></span> <span class="r" style="left:594.29px;top:917.30px"><svg width="21.99" height="25.09" viewBox="0 0 21.99 25.09"><text transform="scale(0.9526,1)" x="0" y="25.09" font-size="25.09">풀</text></svg></span> <span class="r l" style="left:729.29px;top:919.46px;font-size:23.5px;line-height:29px;letter-spacing:0.000px;transform:scaleX(0.9571);">10%</span> <span class="r l" style="left:816.28px;top:919.46px;font-size:23.5px;line-height:29px;letter-spacing:0.000px;transform:scaleX(1.1400);">3</span><span class="r" style="left:830.27px;top:917.30px"><svg width="21.99" height="25.09" viewBox="0 0 21.99 25.09"><text transform="scale(0.9526,1)" x="0" y="25.09" font-size="25.09">억</text></svg></span> <span class="r l" style="left:932.53px;top:919.46px;font-size:23.5px;line-height:29px;letter-spacing:0.000px;transform:scaleX(0.9695);">DEX</span> <span class="r" style="left:986.69px;top:917.30px"><svg width="21.99" height="25.09" viewBox="0 0 21.99 25.09"><text transform="scale(0.9526,1)" x="0" y="25.09" font-size="25.09">및</text></svg></span> <span class="r l" style="left:1016.66px;top:919.46px;font-size:23.5px;line-height:29px;letter-spacing:0.000px;transform:scaleX(0.9543);">CEX</span> <span class="r" style="left:1071.37px;top:917.30px"><svg width="68.47" height="25.09" viewBox="0 0 68.47 25.09"><text transform="scale(0.9526,1)" x="0" y="25.09" font-size="25.09" textLength="71.88">유동성</text></svg></span> <span class="r" style="left:1144.73px;top:917.30px"><svg width="43.26" height="25.09" viewBox="0 0 43.26 25.09"><text transform="scale(0.9526,1)" x="0" y="25.09" font-size="25.09" textLength="45.41">공급</text></svg></span>
<span class="r" style="left:520.92px;top:977.85px"><svg width="66.91" height="25.09" viewBox="0 0 66.91 25.09"><text transform="scale(0.9526,1)" x="0" y="25.09" font-size="25.09" textLength="70.24">생태계</text></svg></span> <span class="r" style="left:593.34px;top:977.85px"><svg width="43.64" height="25.09" viewBox="0 0 43.64 25.09"><text transform="scale(0.9526,1)" x="0" y="25.09" font-size="25.09" textLength="45.81">기금</text></svg></span> <span class="r l" style="left:729.38px;top:980.01px;font-size:23.5px;line-height:29px;letter-spacing:0.000px;transform:scaleX(0.9756);">5%</span> <span class="r l" style="left:816.23px;top:980.01px;font-size:23.5px;line-height:29px;letter-spacing:0.000px;transform:scaleX(1.0438);">1.5</span><span class="r" style="left:848.97px;top:977.85px"><svg width="21.99" height="25.09" viewBox="0 0 21.99 25.09"><text transform="scale(0.9526,1)" x="0" y="25.09" font-size="25.09">억</text></svg></span> <span class="r" style="left:933.52px;top:977.85px"><svg width="90.25" height="25.09" viewBox="0 0 90.25 25.09"><text transform="scale(0.9526,1)" x="0" y="25.09" font-size="25.09" textLength="94.74">파트너십</text></svg></span> <span class="r" style="left:1029.39px;top:977.85px"><svg width="21.99" height="25.09" viewBox="0 0 21.99 25.09"><text transform="scale(0.9526,1)" x="0" y="25.09" font-size="25.09">및</text></svg></span> <span class="r" style="left:1058.75px;top:977.85px"><svg width="68.47" height="25.09" viewBox="0 0 68.47 25.09"><text transform="scale(0.9526,1)" x="0" y="25.09" font-size="25.09" textLength="71.88">생태계</text></svg></span> <span class="r" style="left:1132.62px;top:977.85px"><svg width="42.78" height="25.09" viewBox="0 0 42.78 25.09"><text transform="scale(0.9526,1)" x="0" y="25.09" font-size="25.09" textLength="44.91">확장</text></svg></span>
<span class="r" style="left:520.50px;top:1038.40px"><svg width="21.99" height="25.09" viewBox="0 0 21.99 25.09"><text transform="scale(0.9526,1)" x="0" y="25.09" font-size="25.09">팀</text></svg></span> <span class="r" style="left:549.19px;top:1038.40px"><svg width="21.99" height="25.09" viewBox="0 0 21.99 25.09"><text transform="scale(0.9526,1)" x="0" y="25.09" font-size="25.09">및</text></svg></span> <span class="r" style="left:578.97px;top:1038.40px"><svg width="112.29" height="25.09" viewBox="0 0 112.29 25.09"><text transform="scale(0.9526,1)" x="0" y="25.09" font-size="25.09" textLength="117.88">어드바이저</text></svg></span> <span class="r l" style="left:729.38px;top:1040.56px;font-size:23.5px;line-height:29px;letter-spacing:0.000px;transform:scaleX(0.9756);">5%</span> <span class="r l" style="left:816.23px;top:1040.56px;font-size:23.5px;line-height:29px;letter-spacing:0.000px;transform:scaleX(1.0438);">1.5</span><span class="r" style="left:848.97px;top:1038.40px"><svg width="21.99" height="25.09" viewBox="0 0 21.99 25.09"><text transform="scale(0.9526,1)" x="0" y="25.09" font-size="25.09">억</text></svg></span> <span class="r" style="left:932.00px;top:1038.40px"><svg width="21.99" height="25.09" viewBox="0 0 21.99 25.09"><text transform="scale(0.9526,1)" x="0" y="25.09" font-size="25.09">팀</text></svg></span> <span class="r" style="left:961.70px;top:1038.40px"><svg width="88.21" height="25.09" viewBox="0 0 88.21 25.09"><text transform="scale(0.9526,1)" x="0" y="25.09" font-size="25.09" textLength="92.60">인센티브</text></svg></span> <span class="r l" style="left:1057.75px;top:1040.56px;font-size:23.5px;line-height:29px;letter-spacing:0.000px;transform:scaleX(0.9400);">(</span><span class="r" style="left:1064.39px;top:1038.40px"><svg width="45.65" height="25.09" viewBox="0 0 45.65 25.09"><text transform="scale(0.9526,1)" x="0" y="25.09" font-size="25.09" textLength="47.92">락업</text></svg></span> <span class="r" style="left:1119.25px;top:1038.40px"><svg width="44.60" height="25.09" viewBox="0 0 44.60 25.09"><text transform="scale(0.9526,1)" x="0" y="25.09" font-size="25.09" textLength="46.82">조건</text></svg></span><span class="r l" style="left:1163.24px;top:1040.56px;font-size:23.5px;line-height:29px;letter-spacing:0.000px;transform:scaleX(0.9400);">)</span></div>
</body></html>
